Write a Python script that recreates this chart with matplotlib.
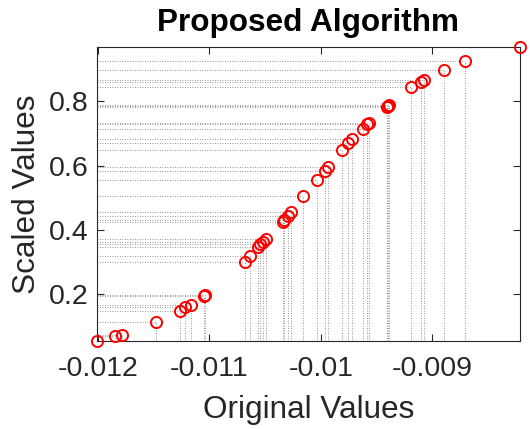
import matplotlib
matplotlib.use("Agg")
import matplotlib.pyplot as plt
import numpy as np

# values
orig = [-0.012010, -0.011851, -0.011785, -0.011476, -0.011267, -0.011216, -0.011168,
        -0.011047, -0.011038, -0.010683, -0.010633, -0.010566, -0.010544, -0.010517,
        -0.010490, -0.010344, -0.010328, -0.010294, -0.010270, -0.010159, -0.010031,
        -0.009964, -0.009940, -0.009807, -0.009753, -0.009724, -0.009625, -0.009582,
        -0.009566, -0.009404, -0.009395, -0.009386, -0.009189, -0.009102, -0.009072,
        -0.008892, -0.008706, -0.008212]
scaled = [0.054, 0.069, 0.074, 0.1125, 0.148, 0.160, 0.166, 0.195, 0.1975, 0.300,
          0.317, 0.347, 0.355, 0.3625, 0.370, 0.424, 0.431, 0.444, 0.454, 0.504,
          0.555, 0.584, 0.595, 0.647, 0.670, 0.681, 0.7125, 0.728, 0.733, 0.783,
          0.786, 0.789, 0.843, 0.859, 0.8665, 0.898, 0.924, 0.968]
xticks = [-0.012, -0.011, -0.01, -0.009]
xticklabels = ['-0.012', '-0.011', '-0.01', '-0.009']
yticks = [0.2, 0.4, 0.6, 0.8]

plt.rcParams['font.family'] = ['Liberation Sans', 'DejaVu Sans']

x = np.array(orig)
y = np.array(scaled)
xmin, xmax = x.min(), x.max()
ymin, ymax = y.min(), y.max()

fig = plt.figure(figsize=(5.30, 4.29), dpi=100)
ax = fig.add_axes([0.183, 0.205, 0.798, 0.685])

gray = '0.45'
for xi, yi in zip(x, y):
    ax.plot([xi, xi], [ymin, yi], linestyle=(0, (1, 2)), color=gray, lw=0.6, zorder=1)
    ax.plot([xmin, xi], [yi, yi], linestyle=(0, (1, 2)), color=gray, lw=0.6, zorder=1)

ax.plot(x, y, 'o', color='red', markerfacecolor='none', markersize=8,
        markeredgewidth=1.4, linestyle='none', zorder=3, clip_on=False)

ax.set_xlim(xmin, xmax)
ax.set_ylim(ymin, ymax)
ax.set_xticks(xticks)
ax.set_xticklabels(xticklabels)
ax.set_yticks(yticks)

dark = '0.15'
for s in ax.spines.values():
    s.set_color(dark)
    s.set_linewidth(0.8)
ax.tick_params(direction='in', top=True, right=True, length=5, width=0.8,
               colors=dark, labelsize=20.5, labelcolor=dark)
ax.tick_params(axis='x', pad=11)
ax.tick_params(axis='y', pad=6)

ax.set_title('Proposed Algorithm', fontsize=22.7, fontweight='bold', pad=12)
ax.set_xlabel('Original Values', fontsize=22.7, color=dark, labelpad=9)
ax.set_ylabel('Scaled Values', fontsize=22.7, color=dark, labelpad=5)

fig.savefig('out.png', dpi=100)
